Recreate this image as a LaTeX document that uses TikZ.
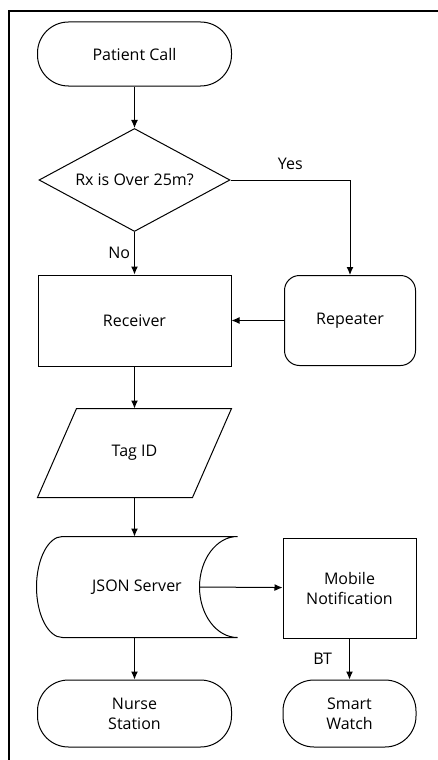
\documentclass[tikz,border=0pt]{standalone}
\usepackage{fontspec}
\setmainfont{Open Sans}
\usetikzlibrary{arrows.meta,shapes.geometric}

\begin{document}
\begin{tikzpicture}[x=1pt,y=-1pt,
  font=\fontsize{16}{20}\selectfont,
  every node/.style={align=center,inner sep=0pt,line width=1pt},
  terminal/.style={draw,rectangle,rounded corners=31pt,minimum width=194pt},
  process/.style={draw,rectangle,minimum width=193pt,minimum height=91pt},
  decision/.style={draw,diamond,aspect=1.85,minimum width=191pt,minimum height=103pt},
  arr/.style={line width=1pt,-{Latex[length=8pt,width=7pt]}}]
\useasboundingbox (0,0) rectangle (438,760);
\draw[line width=2pt] (9,760) -- (9,11) -- (438,11);

\node[terminal,minimum height=64pt] (call) at (134.5,54) {Patient Call};
\node[decision] (decide) at (134.5,180) {Rx is Over 25m?};
\node[process] (recv) at (134.5,320.5) {Receiver};
\node[draw,rectangle,rounded corners=15pt,minimum width=131pt,minimum height=90pt] (rep) at (350,320.5) {Repeater};
\node[minimum width=193pt,minimum height=88pt] (tag) at (134.5,453) {Tag ID};
\node[minimum width=200pt,minimum height=100pt] (server) at (137,587) {JSON Server};
\node[draw,rectangle,minimum width=133pt,minimum height=100pt] (mobile) at (349.5,588) {Mobile\\Notification};
\node[terminal,minimum height=67pt] (nurse) at (134.5,713.5) {Nurse\\Station};
\node[terminal,minimum width=133pt,minimum height=67pt] (watch) at (349.5,713.5) {Smart\\Watch};

\draw[line width=1pt] ([xshift=39pt]tag.north west) -- (tag.north east)
  -- ([xshift=-39pt]tag.south east) -- (tag.south west) -- cycle;
\draw[line width=1pt] ([xshift=26pt]server.north west) -- (server.north east)
  .. controls +(-21,0) and +(0,-27.6) .. ([xshift=-38pt]server.east)
  .. controls +(0,27.6) and +(-21,0) .. (server.south east)
  -- ([xshift=26pt]server.south west)
  .. controls +(-14.4,0) and +(0,27.6) .. (server.west)
  .. controls +(0,-27.6) and +(-14.4,0) .. ([xshift=26pt]server.north west) -- cycle;
\coordinate (srvout) at ([xshift=-38pt]server.east);

\draw[arr] (call) -- (decide);
\draw[arr] (decide) -- node[left=4pt]{No} (recv);
\draw[arr] (decide.east) -| node[pos=0.25,above=10pt]{Yes} (rep.north);
\draw[arr] (rep) -- (recv);
\draw[arr] (recv) -- (tag);
\draw[arr] (tag) -- (tag |- server.north);
\draw[arr] (srvout) -- (mobile);
\draw[arr] (nurse |- server.south) -- (nurse);
\draw[arr] (mobile) -- node[left=17pt]{BT} (watch);
\end{tikzpicture}
\end{document}
